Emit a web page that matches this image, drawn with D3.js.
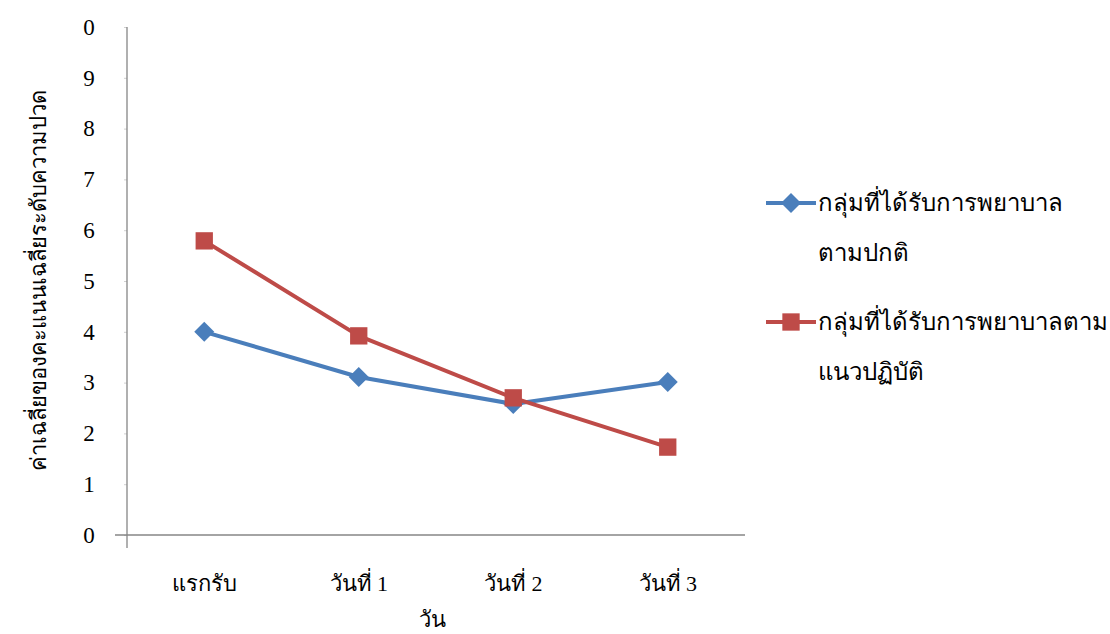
<!DOCTYPE html>
<html>
<head>
<meta charset="utf-8">
<script src="https://cdn.jsdelivr.net/npm/d3@7"></script>
<style>
  body { margin: 0; background: #fff; }
  svg { display: block; }
  text { font-family: "Liberation Serif", "Times New Roman", serif; fill: #000; }
</style>
</head>
<body>
<script>
// Pain score averages across the first days of care
const categories = ["แรกรับ", "วันที่ 1", "วันที่ 2", "วันที่ 3"];
const seriesNames = [
  ["กลุ่มที่ได้รับการพยาบาล", "ตามปกติ"],
  ["กลุ่มที่ได้รับการพยาบาลตาม", "แนวปฏิบัติ"]
];
const usualCare = [4.0, 3.11, 2.58, 3.01];
const guidelineCare = [5.79, 3.92, 2.70, 1.73];
const yTickValues = [0, 1, 2, 3, 4, 5, 6, 7, 8, 9, 10];
const yTickLabels = ["0", "1", "2", "3", "4", "5", "6", "7", "8", "9", "0"];
const xTitle = "วัน";
const yTitle = "ค่าเฉลี่ยของคะแนนเฉลี่ยระดับความปวด";

const W = 1110, H = 634;
const plot = { left: 127, right: 745, top: 27, bottom: 535 };
const colors = ["#4A7EBB", "#BE4B48"];
const axisColor = "#868686";

const svg = d3.select("body").append("svg").attr("width", W).attr("height", H);

const x = d3.scaleBand().domain(categories).range([plot.left, plot.right]);
const y = d3.scaleLinear().domain([0, 10]).range([plot.bottom, plot.top]);

// Y axis
const yAxis = d3.axisLeft(y).tickValues(yTickValues)
  .tickFormat((d, i) => yTickLabels[i]).tickSize(3).tickPadding(33);
const gy = svg.append("g").attr("transform", `translate(${plot.left},0)`).call(yAxis);
gy.select(".domain").remove();
gy.selectAll(".tick line").attr("stroke", "#d0d0d0");
gy.selectAll(".tick text").style("font-size", "23px").attr("text-anchor", "middle").attr("dx", "-2");
svg.append("line").attr("x1", plot.left).attr("x2", plot.left)
  .attr("y1", plot.top).attr("y2", plot.bottom + 13)
  .attr("stroke", axisColor).attr("stroke-width", 1.3);

// X axis
const xAxis = d3.axisBottom(x).tickSize(0).tickPadding(40);
const gx = svg.append("g").attr("transform", `translate(0,${plot.bottom})`).call(xAxis);
gx.select(".domain").remove();
gx.selectAll(".tick text").style("font-size", "22px");
svg.append("line").attr("x1", plot.left - 12).attr("x2", plot.right)
  .attr("y1", plot.bottom).attr("y2", plot.bottom)
  .attr("stroke", axisColor).attr("stroke-width", 1.3);

// Axis titles
svg.append("text").attr("x", 432).attr("y", 627).attr("text-anchor", "middle")
  .style("font-size", "22px").text(xTitle);
svg.append("text").attr("transform", "translate(46,280) rotate(-90)")
  .attr("text-anchor", "middle").style("font-size", "22px").text(yTitle);

const cx = d => x(d) + x.bandwidth() / 2;
const line = d3.line().x((d, i) => cx(categories[i])).y(d => y(d));

// Markers: a square turned 45° for the diamond, a plain square for the other series
const diamond = { path: d3.symbol().type(d3.symbolSquare).size(200)(), rot: 45 };
const square = { path: d3.symbol().type(d3.symbolSquare).size(300)(), rot: 0 };

function drawSeries(values, color, mk) {
  svg.append("path").datum(values).attr("d", line)
    .attr("fill", "none").attr("stroke", color).attr("stroke-width", 4)
    .attr("stroke-linejoin", "round");
  svg.selectAll(null).data(values).enter().append("path")
    .attr("d", mk.path)
    .attr("transform", (d, i) => `translate(${cx(categories[i])},${y(d)}) rotate(${mk.rot})`)
    .attr("fill", color);
}
drawSeries(usualCare, colors[0], diamond);
drawSeries(guidelineCare, colors[1], square);

// Legend
const legendY = [203, 322];
const markers = [diamond, square];
seriesNames.forEach((lines, i) => {
  const g = svg.append("g").attr("transform", `translate(766,${legendY[i]})`);
  g.append("line").attr("x1", 0).attr("x2", 50).attr("stroke", colors[i]).attr("stroke-width", 4);
  g.append("path").attr("d", markers[i].path)
    .attr("transform", `translate(25,0) rotate(${markers[i].rot})`).attr("fill", colors[i]);
  lines.forEach((t, j) => {
    g.append("text").attr("x", 52).attr("y", j * 50 + 8)
      .style("font-size", "24px").text(t);
  });
});
</script>
</body>
</html>
